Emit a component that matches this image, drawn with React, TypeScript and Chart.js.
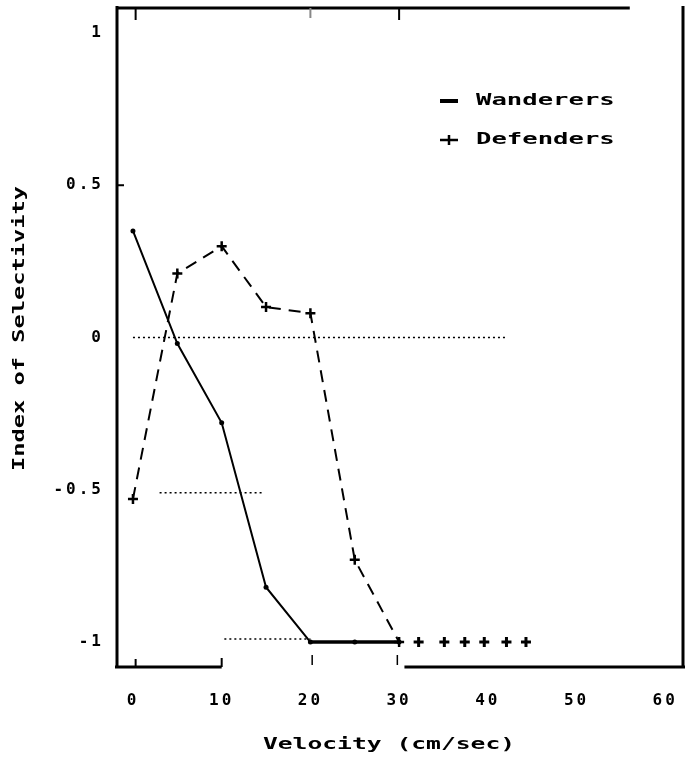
import React, { useEffect, useRef } from "react";
import { Chart, registerables } from "chart.js";

Chart.register(...registerables);

// ---- data ----
const velocity = [0, 5, 10, 15, 20, 25, 30];
const wanderers = [0.35, -0.02, -0.28, -0.82, -1, -1, -1];
const defenders = [-0.53, 0.21, 0.3, 0.1, 0.08, -0.73, -1];
const defendersTailX = [32.2, 35.1, 37.4, 39.6, 42.1, 44.3];
const defendersTailY = [-1, -1, -1, -1, -1, -1];
const refZeroX = [0, 42];
const refZeroY = [0, 0];
const refHalfX = [3, 14.5];
const refHalfY = [-0.51, -0.51];
const refOneX = [10.3, 20];
const refOneY = [-0.99, -0.99];
const xTickValues = [0, 10, 20, 30, 40, 50, 60];
const xTickLabels = ["0", "10", "20", "30", "40", "50", "60"];
const yTickValues = [-1, -0.5, 0, 0.5, 1];
const yTickLabels = ["-1", "-0.5", "0", "0.5", "1"];
const seriesNames = ["Wanderers", "Defenders"];
const xTitle = "Velocity (cm/sec)";
const yTitle = "Index of Selectivity";

const FONT = "'DejaVu Sans Mono', monospace";

function pts(xs: number[], ys: number[]) {
  return xs.map((x, i) => ({ x, y: ys[i] }));
}

function stretchText(
  ctx: CanvasRenderingContext2D,
  text: string,
  x: number,
  y: number,
  sx: number,
  size: number,
  rot: number,
  align: CanvasTextAlign
) {
  ctx.save();
  ctx.translate(x, y);
  if (rot) ctx.rotate(rot);
  ctx.scale(sx, 1);
  (ctx as any).letterSpacing = "0px";
  ctx.font = `bold ${size}px ${FONT}`;
  ctx.textAlign = align;
  ctx.textBaseline = "middle";
  ctx.fillStyle = "#000";
  ctx.fillText(text, 0, 0);
  ctx.restore();
}

const spacingPlugin = {
  id: "spacing",
  beforeLayout(chart: any) {
    chart.ctx.letterSpacing = "3px";
  },
  beforeDraw(chart: any) {
    chart.ctx.letterSpacing = "3px";
  },
};

const framePlugin = {
  id: "frame",
  afterDatasetsDraw(chart: any) {
    const ctx: CanvasRenderingContext2D = chart.ctx;
    const a = chart.chartArea;
    const xs = chart.scales.x;
    const ys = chart.scales.y;
    const px = (v: number) => xs.getPixelForValue(v);
    const py = (v: number) => ys.getPixelForValue(v);
    ctx.save();
    ctx.strokeStyle = "#000";
    ctx.lineCap = "butt";
    ctx.lineWidth = 3;
    const line = (x1: number, y1: number, x2: number, y2: number) => {
      ctx.beginPath();
      ctx.moveTo(x1, y1);
      ctx.lineTo(x2, y2);
      ctx.stroke();
    };
    // left
    line(a.left, a.top - 2, a.left, a.bottom);
    // right
    line(a.right, a.top - 2, a.right, a.bottom);
    // top (ends short of right edge)
    line(a.left, a.top, px(56), a.top);
    // bottom with broken section
    line(a.left - 2, a.bottom, px(10), a.bottom);
    line(px(30.6), a.bottom, a.right + 2, a.bottom);
    ctx.lineWidth = 2;
    // tick marks
    line(px(10), a.bottom, px(10), a.bottom - 9);
    line(px(0.3), a.bottom, px(0.3), a.bottom - 8);
    line(px(0.3), a.top, px(0.3), a.top + 12);
    line(px(30), a.top, px(30), a.top + 12);
    line(a.left, py(0.5), a.left + 7, py(0.5));
    ctx.strokeStyle = "#888";
    line(px(20), a.top, px(20), a.top + 10);
    ctx.strokeStyle = "#000";
    ctx.lineWidth = 1.5;
    line(px(20.2), a.bottom - 2, px(20.2), a.bottom - 12);
    line(px(29.8), a.bottom - 2, px(29.8), a.bottom - 12);
    ctx.restore();
  },
  afterDraw(chart: any) {
    const ctx: CanvasRenderingContext2D = chart.ctx;
    const a = chart.chartArea;
    const cx = (a.left + a.right) / 2;
    const cy = (a.top + a.bottom) / 2;
    stretchText(ctx, xTitle, cx - 11, 745, 1.54, 16, 0, "center");
    stretchText(ctx, yTitle, 20, cy - 9, 1.48, 16, -Math.PI / 2, "center");
    // legend
    const lx = 440;
    const ly = [101, 140];
    ctx.save();
    ctx.strokeStyle = "#000";
    ctx.lineWidth = 4;
    ctx.beginPath();
    ctx.moveTo(lx, ly[0]);
    ctx.lineTo(lx + 18, ly[0]);
    ctx.stroke();
    ctx.lineWidth = 2.5;
    ctx.beginPath();
    ctx.moveTo(lx, ly[1]);
    ctx.lineTo(lx + 18, ly[1]);
    ctx.moveTo(lx + 9, ly[1] - 5);
    ctx.lineTo(lx + 9, ly[1] + 5);
    ctx.stroke();
    ctx.restore();
    seriesNames.forEach((name, i) => {
      stretchText(ctx, name, 476, ly[i], 1.6, 16, 0, "left");
    });
  },
};

export default function App() {
  const ref = useRef<HTMLCanvasElement | null>(null);
  useEffect(() => {
    if (!ref.current) return;
    const dotted = {
      borderColor: "#000",
      borderWidth: 1.5,
      borderDash: [2, 3],
      pointRadius: 0,
      showLine: true,
      fill: false,
    };
    const chart = new Chart(ref.current, {
      type: "scatter",
      data: {
        datasets: [
          { label: "ref0", data: pts(refZeroX, refZeroY), ...dotted },
          { label: "ref-0.5", data: pts(refHalfX, refHalfY), ...dotted },
          { label: "ref-1", data: pts(refOneX, refOneY), ...dotted },
          {
            label: seriesNames[0],
            data: pts(velocity, wanderers),
            showLine: true,
            borderColor: "#000",
            backgroundColor: "#000",
            borderWidth: 2,
            pointStyle: "circle",
            pointRadius: 2.5,
            pointBorderWidth: 0,
            segment: {
              borderWidth: (c: any) => (c.p0.parsed.x >= 20 ? 3.5 : 2),
            },
          } as any,
          {
            label: seriesNames[1],
            data: pts(velocity, defenders),
            showLine: true,
            borderColor: "#000",
            backgroundColor: "#000",
            borderWidth: 2,
            borderDash: [12, 8],
            pointStyle: "cross",
            pointRadius: 5,
            pointBorderWidth: 2.5,
          },
          {
            label: "tail",
            data: pts(defendersTailX, defendersTailY),
            showLine: false,
            borderColor: "#000",
            backgroundColor: "#000",
            pointStyle: "cross",
            pointRadius: 5,
            pointBorderWidth: 3,
          },
        ],
      },
      options: {
        animation: false,
        responsive: false,
        maintainAspectRatio: false,
        devicePixelRatio: 1,
        layout: { padding: { left: 0, top: 7, right: 11, bottom: 0 } },
        plugins: {
          legend: { display: false },
          tooltip: { enabled: false },
          title: { display: false },
        },
        scales: {
          x: {
            type: "linear",
            min: -1.8,
            max: 62,
            border: { display: false },
            grid: { display: false, drawTicks: false },
            afterBuildTicks: (s: any) => {
              s.ticks = xTickValues.map((v) => ({ value: v }));
            },
            afterFit: (s: any) => {
              s.height = 93;
              s.paddingLeft = 0;
              s.paddingRight = 0;
            },
            ticks: {
              autoSkip: false,
              maxRotation: 0,
              padding: 24,
              color: "#000",
              font: { family: FONT, size: 16, weight: "bold" },
              callback: (v: any) => {
                const i = xTickValues.indexOf(Number(v));
                return i >= 0 ? xTickLabels[i] : "";
              },
            },
          },
          y: {
            type: "linear",
            min: -1.082,
            max: 1.082,
            border: { display: false },
            grid: { display: false, drawTicks: false },
            afterBuildTicks: (s: any) => {
              s.ticks = yTickValues.map((v) => ({ value: v }));
            },
            afterFit: (s: any) => {
              s.width = 117;
              s.paddingTop = 0;
              s.paddingBottom = 0;
            },
            ticks: {
              autoSkip: false,
              padding: 13,
              color: "#000",
              font: { family: FONT, size: 16, weight: "bold" },
              callback: (v: any) => {
                const i = yTickValues.indexOf(Number(v));
                return i >= 0 ? yTickLabels[i] : "";
              },
            },
          },
        },
      },
      plugins: [spacingPlugin, framePlugin],
    } as any);
    return () => chart.destroy();
  }, []);
  return (
    <div style={{ position: "absolute", left: 0, top: 0, width: 694, height: 760, background: "#fff" }}>
      <canvas ref={ref} width={694} height={760} style={{ display: "block" }} />
    </div>
  );
}
